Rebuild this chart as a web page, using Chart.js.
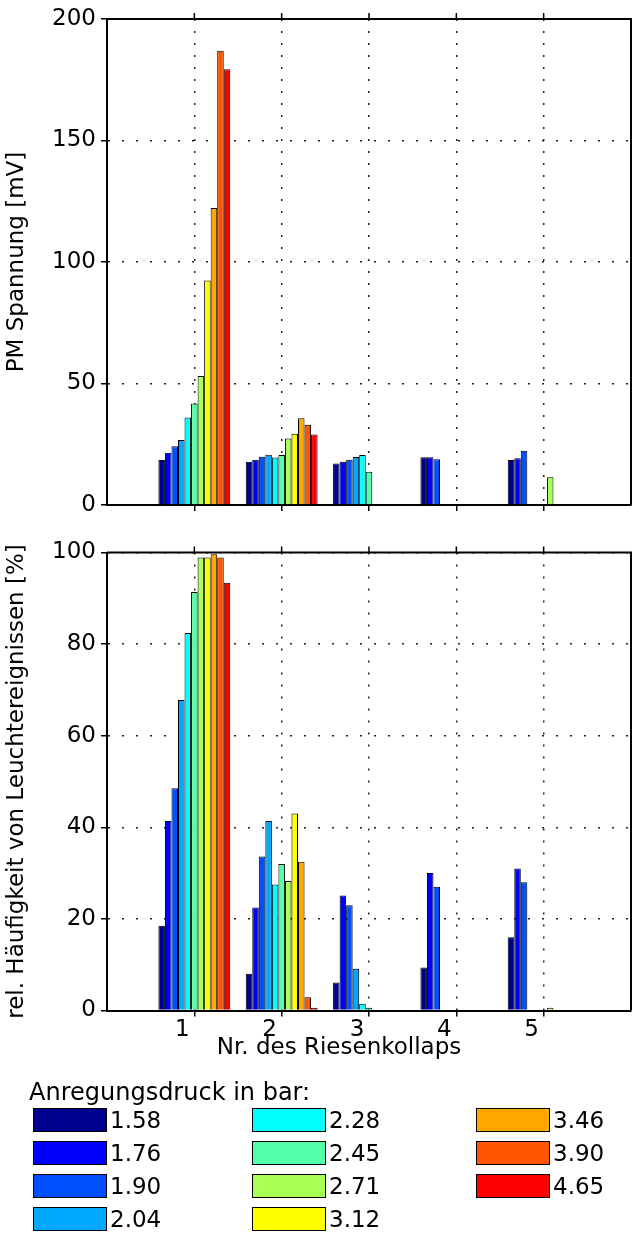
<!DOCTYPE html>
<html>
<head>
<meta charset="utf-8">
<script src="https://cdn.jsdelivr.net/npm/chart.js@4.4.1/dist/chart.umd.min.js"></script>
<style>
  body { margin: 0; background: #fff; width: 633px; height: 1240px; overflow: hidden; position: relative;
         font-family: "DejaVu Sans", sans-serif; color: #000; }
  canvas { position: absolute; left: 0; }
  #top { top: 0; }
  #bottom { top: 530px; }
  #legend { position: absolute; left: 0; top: 0; width: 633px; height: 1240px; pointer-events: none; }
  .ltitle { position: absolute; left: 29px; top: 1078px; font-size: 24px; line-height: 28px; white-space: nowrap; }
  .swatch { position: absolute; width: 74px; height: 24px; border: 1px solid #000; box-sizing: border-box; }
  .ltext { position: absolute; font-size: 23px; line-height: 24px; }
</style>
</head>
<body>
<canvas id="top" width="633" height="530"></canvas>
<canvas id="bottom" width="633" height="560"></canvas>
<div id="legend"></div>
<script>
// collapse number (x axis)
const categories = ["1", "2", "3", "4", "5"];
const xTitle = "Nr. des Riesenkollaps";

// excitation pressure in bar, one series each
const pressures = ["1.58", "1.76", "1.90", "2.04", "2.28", "2.45", "2.71", "3.12", "3.46", "3.90", "4.65"];
const colors = ["#00008f", "#0000ff", "#0050ff", "#00a8ff", "#00ffff", "#55ffaa",
                "#a8ff55", "#ffff00", "#ffa800", "#ff5500", "#ff0000"];

// PM Spannung [mV], one row per pressure, collapses 1..5
const pmVoltage = [
  [18.5, 17.8, 17.1, 19.6, 18.5],   // 1.58
  [21.5, 18.6, 17.8, 19.6, 19.2],   // 1.76
  [24.2, 19.9, 18.6, 18.8, 22.3],   // 1.90
  [26.7, 20.7, 19.8, null, null],   // 2.04
  [36.0, 19.5, 20.6, null, null],   // 2.28
  [41.8, 20.6, 13.7, null, null],   // 2.45
  [53.1, 27.4, null, null, 11.4],   // 2.71
  [92.4, 29.3, null, null, null],   // 3.12
  [122.2, 35.7, null, null, null],  // 3.46
  [186.9, 33.0, null, null, null],  // 3.90
  [179.3, 29.0, null, null, null]   // 4.65
];

// rel. Haeufigkeit von Leuchtereignissen [%]
const relFrequency = [
  [18.5, 8.0, 6.1, 9.4, 16.0],
  [41.4, 22.5, 25.1, 30.0, 31.0],
  [48.5, 33.6, 23.0, 27.0, 28.0],
  [67.8, 41.4, 9.1, null, null],
  [82.4, 27.5, 1.5, null, null],
  [91.4, 32.0, 0.6, null, null],
  [98.9, 28.3, null, null, 0.6],
  [98.9, 43.0, null, null, null],
  [99.6, 32.5, null, null, null],
  [98.9, 2.9, null, null, null],
  [93.4, 0.6, null, null, null]
];

const topTicks = { min: 0, max: 200, step: 50 };
const bottomTicks = { min: 0, max: 100, step: 20 };

// empty slots at 0 and 6 so the x range runs from 0 to 6
const labels = ["", ...categories, ""];

const font = { family: "'DejaVu Sans', sans-serif", size: 23 };

// closes the box and puts tick marks on the top edge
const boxPlugin = {
  id: "box",
  afterDraw(chart) {
    const { ctx, chartArea: a, scales: { x } } = chart;
    ctx.save();
    ctx.strokeStyle = "#000";
    ctx.lineWidth = 2;
    ctx.beginPath();
    ctx.moveTo(a.left, a.top);
    ctx.lineTo(a.right, a.top);
    ctx.lineTo(a.right, a.bottom);
    ctx.stroke();
    ctx.lineWidth = 1.5;
    ctx.beginPath();
    for (let i = 1; i <= categories.length; i++) {
      const px = x.getPixelForTick(i);
      ctx.moveTo(px, a.top);
      ctx.lineTo(px, a.top - 6);
    }
    ctx.stroke();
    ctx.restore();
  }
};

// x axis title, sits a bit left of centre like in the original figure
const xTitlePlugin = {
  id: "xTitle",
  afterDraw(chart) {
    const { ctx, scales: { x } } = chart;
    ctx.save();
    ctx.font = font.size + "px " + font.family;
    ctx.fillStyle = "#000";
    ctx.textAlign = "center";
    ctx.textBaseline = "middle";
    const cx = (x.getPixelForTick(1) + x.getPixelForTick(categories.length)) / 2 - 30;
    ctx.fillText(xTitle, cx, x.bottom - 42);
    ctx.restore();
  }
};

function makePanel(id, values, yTicks, yTitle, showX, padTop, xHeight) {
  const datasets = values.map((row, i) => ({
    label: pressures[i],
    data: [null, ...row, null],
    backgroundColor: colors[i],
    borderColor: "#000",
    borderWidth: 1,
    categoryPercentage: 0.823,
    barPercentage: 1
  }));

  return new Chart(document.getElementById(id), {
    type: "bar",
    data: { labels, datasets },
    plugins: showX ? [boxPlugin, xTitlePlugin] : [boxPlugin],
    options: {
      responsive: false,
      animation: false,
      devicePixelRatio: 1,
      layout: { padding: { top: padTop, right: 2, left: 0, bottom: 0 } },
      plugins: { legend: { display: false }, tooltip: { enabled: false } },
      scales: {
        x: {
          offset: false,
          grid: {
            offset: false,
            color: "#222",
            lineWidth: 1.5,
            tickLength: 6,
            tickWidth: 1.5,
            tickColor: (c) => (c.index === 0 || c.index === labels.length - 1) ? "rgba(0,0,0,0)" : "#000"
          },
          border: { display: true, color: "#000", width: 2, dash: [2, 10] },
          ticks: { display: showX, color: "#000", font, padding: 0, labelOffset: -12, maxRotation: 0, autoSkip: false },
          afterFit: (s) => { s.height = xHeight; }
        },
        y: {
          min: yTicks.min,
          max: yTicks.max,
          grid: { color: "#222", lineWidth: 1.5, tickLength: 6, tickWidth: 1.5, tickColor: "#000" },
          border: { display: true, color: "#000", width: 2, dash: [2, 12] },
          ticks: { stepSize: yTicks.step, color: "#000", font, padding: 5 },
          title: { display: true, text: yTitle, color: "#000", font, padding: { top: 3, bottom: 0 } },
          afterFit: (s) => { s.width = 107; }
        }
      }
    }
  });
}

makePanel("top", pmVoltage, topTicks, "PM Spannung [mV]", false, 19, 25);
makePanel("bottom", relFrequency, bottomTicks, "rel. Häufigkeit von Leuchtereignissen [%]", true, 22.5, 79.5);

// legend, three columns filled top to bottom
const legend = document.getElementById("legend");
const title = document.createElement("div");
title.className = "ltitle";
title.textContent = "Anregungsdruck in bar:";
legend.appendChild(title);
const colX = [33, 252, 476];
const rowY = [1108, 1141, 1174, 1207];
pressures.forEach((p, i) => {
  const col = Math.floor(i / 4), row = i % 4;
  const sw = document.createElement("div");
  sw.className = "swatch";
  sw.style.left = colX[col] + "px";
  sw.style.top = rowY[row] + "px";
  sw.style.background = colors[i];
  legend.appendChild(sw);
  const tx = document.createElement("div");
  tx.className = "ltext";
  tx.style.left = (colX[col] + 77) + "px";
  tx.style.top = rowY[row] + "px";
  tx.textContent = p;
  legend.appendChild(tx);
});
</script>
</body>
</html>
